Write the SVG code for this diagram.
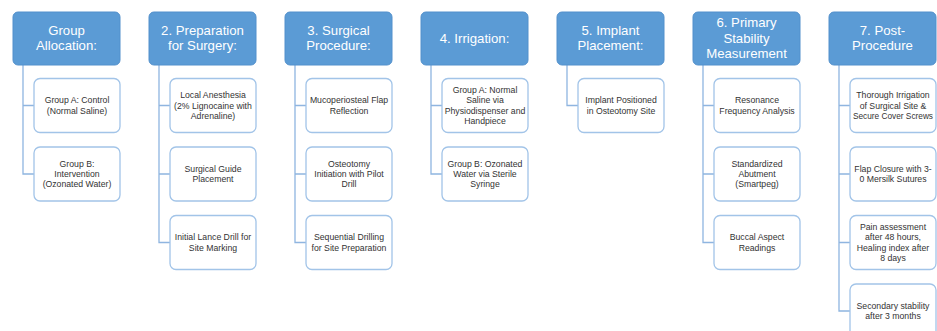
<svg xmlns="http://www.w3.org/2000/svg" width="937" height="331" viewBox="0 0 937 331">
<style>
.hd{fill:#5B9BD5;stroke:#5290CC;stroke-width:1}
.hdt{font-family:"Liberation Sans",Arial,sans-serif;font-size:13.2px;fill:#fff;text-anchor:middle}
.ch{fill:#fff;stroke:#A2C4E8;stroke-width:1.3}
.cht{font-family:"Liberation Sans",Arial,sans-serif;font-size:8.7px;fill:#333;text-anchor:middle}
.cn{fill:none;stroke:#8FB5E0;stroke-width:1.3}
</style>
<rect width="937" height="331" fill="#fff"/>
<g id="connectors">
<path class="cn" d="M23 65V105.5H34M23 105.5V174H34"/>
<path class="cn" d="M159 65V242.5H170M159 105.5H170M159 174H170"/>
<path class="cn" d="M295 65V242.5H306M295 105.5H306M295 174H306"/>
<path class="cn" d="M431 65V174H442M431 105.5H442"/>
<path class="cn" d="M567 65V105.5H578"/>
<path class="cn" d="M703 65V242.5H714M703 105.5H714M703 174H714"/>
<path class="cn" d="M839 65V311H850M839 105.5H850M839 174H850M839 242.5H850"/>
</g>
<g id="h1"><rect class="hd" x="13" y="12" width="107" height="53" rx="5"/><text class="hdt"><tspan x="66.5" y="34.8">Group</tspan><tspan x="66.5" y="50.3">Allocation:</tspan></text></g>
<g id="h1c1"><rect class="ch" x="34" y="78.5" width="86" height="54" rx="6"/><text class="cht"><tspan x="77" y="103.4">Group A: Control</tspan><tspan x="77" y="113.7">(Normal Saline)</tspan></text></g>
<g id="h1c2"><rect class="ch" x="34" y="147" width="86" height="54" rx="6"/><text class="cht"><tspan x="77" y="166.7">Group B:</tspan><tspan x="77" y="177">Intervention</tspan><tspan x="77" y="187.3">(Ozonated Water)</tspan></text></g>

<g id="h2"><rect class="hd" x="149" y="12" width="107" height="53" rx="5"/><text class="hdt"><tspan x="202.5" y="34.8">2. Preparation</tspan><tspan x="202.5" y="50.3">for Surgery:</tspan></text></g>
<g id="h2c1"><rect class="ch" x="170" y="78.5" width="86" height="54" rx="6"/><text class="cht"><tspan x="213" y="98.2">Local Anesthesia</tspan><tspan x="213" y="108.5">(2% Lignocaine with</tspan><tspan x="213" y="118.8">Adrenaline)</tspan></text></g>
<g id="h2c2"><rect class="ch" x="170" y="147" width="86" height="54" rx="6"/><text class="cht"><tspan x="213" y="171.9">Surgical Guide</tspan><tspan x="213" y="182.2">Placement</tspan></text></g>
<g id="h2c3"><rect class="ch" x="170" y="215.5" width="86" height="54" rx="6"/><text class="cht"><tspan x="213" y="240.4">Initial Lance Drill for</tspan><tspan x="213" y="250.7">Site Marking</tspan></text></g>

<g id="h3"><rect class="hd" x="285" y="12" width="107" height="53" rx="5"/><text class="hdt"><tspan x="338.5" y="34.8">3. Surgical</tspan><tspan x="338.5" y="50.3">Procedure:</tspan></text></g>
<g id="h3c1"><rect class="ch" x="306" y="78.5" width="86" height="54" rx="6"/><text class="cht"><tspan x="349" y="103.4">Mucoperiosteal Flap</tspan><tspan x="349" y="113.7">Reflection</tspan></text></g>
<g id="h3c2"><rect class="ch" x="306" y="147" width="86" height="54" rx="6"/><text class="cht"><tspan x="349" y="166.7">Osteotomy</tspan><tspan x="349" y="177">Initiation with Pilot</tspan><tspan x="349" y="187.3">Drill</tspan></text></g>
<g id="h3c3"><rect class="ch" x="306" y="215.5" width="86" height="54" rx="6"/><text class="cht"><tspan x="349" y="240.4">Sequential Drilling</tspan><tspan x="349" y="250.7">for Site Preparation</tspan></text></g>

<g id="h4"><rect class="hd" x="421" y="12" width="107" height="53" rx="5"/><text class="hdt"><tspan x="474.5" y="42.5">4. Irrigation:</tspan></text></g>
<g id="h4c1"><rect class="ch" x="442" y="78.5" width="86" height="54" rx="6"/><text class="cht"><tspan x="485" y="93.1">Group A: Normal</tspan><tspan x="485" y="103.4">Saline via</tspan><tspan x="485" y="113.7">Physiodispenser and</tspan><tspan x="485" y="124">Handpiece</tspan></text></g>
<g id="h4c2"><rect class="ch" x="442" y="147" width="86" height="54" rx="6"/><text class="cht"><tspan x="485" y="166.7">Group B: Ozonated</tspan><tspan x="485" y="177">Water via Sterile</tspan><tspan x="485" y="187.3">Syringe</tspan></text></g>

<g id="h5"><rect class="hd" x="557" y="12" width="107" height="53" rx="5"/><text class="hdt"><tspan x="610.5" y="34.8">5. Implant</tspan><tspan x="610.5" y="50.3">Placement:</tspan></text></g>
<g id="h5c1"><rect class="ch" x="578" y="78.5" width="86" height="54" rx="6"/><text class="cht"><tspan x="621" y="103.4">Implant Positioned</tspan><tspan x="621" y="113.7">in Osteotomy Site</tspan></text></g>

<g id="h6"><rect class="hd" x="693" y="12" width="107" height="53" rx="5"/><text class="hdt"><tspan x="746.5" y="27.3">6. Primary</tspan><tspan x="746.5" y="42.8">Stability</tspan><tspan x="746.5" y="58.3">Measurement</tspan></text></g>
<g id="h6c1"><rect class="ch" x="714" y="78.5" width="86" height="54" rx="6"/><text class="cht"><tspan x="757" y="103.4">Resonance</tspan><tspan x="757" y="113.7">Frequency Analysis</tspan></text></g>
<g id="h6c2"><rect class="ch" x="714" y="147" width="86" height="54" rx="6"/><text class="cht"><tspan x="757" y="166.7">Standardized</tspan><tspan x="757" y="177">Abutment</tspan><tspan x="757" y="187.3">(Smartpeg)</tspan></text></g>
<g id="h6c3"><rect class="ch" x="714" y="215.5" width="86" height="54" rx="6"/><text class="cht"><tspan x="757" y="240.4">Buccal Aspect</tspan><tspan x="757" y="250.7">Readings</tspan></text></g>

<g id="h7"><rect class="hd" x="829" y="12" width="107" height="53" rx="5"/><text class="hdt"><tspan x="882.5" y="34.8">7. Post-</tspan><tspan x="882.5" y="50.3">Procedure</tspan></text></g>
<g id="h7c1"><rect class="ch" x="850" y="78.5" width="86" height="54" rx="6"/><text class="cht"><tspan x="893" y="98.2">Thorough Irrigation</tspan><tspan x="893" y="108.5">of Surgical Site &amp;</tspan><tspan x="893" y="118.8" textLength="80" lengthAdjust="spacingAndGlyphs">Secure Cover Screws</tspan></text></g>
<g id="h7c2"><rect class="ch" x="850" y="147" width="86" height="54" rx="6"/><text class="cht"><tspan x="893" y="171.9">Flap Closure with 3-</tspan><tspan x="893" y="182.2">0 Mersilk Sutures</tspan></text></g>
<g id="h7c3"><rect class="ch" x="850" y="215.5" width="86" height="54" rx="6"/><text class="cht"><tspan x="893" y="230.1">Pain assessment</tspan><tspan x="893" y="240.4">after 48 hours,</tspan><tspan x="893" y="250.7">Healing index after</tspan><tspan x="893" y="261">8 days</tspan></text></g>
<g id="h7c4"><rect class="ch" x="850" y="284" width="86" height="54" rx="6"/><text class="cht"><tspan x="893" y="308.9">Secondary stability</tspan><tspan x="893" y="319.2">after 3 months</tspan></text></g>
</svg>
